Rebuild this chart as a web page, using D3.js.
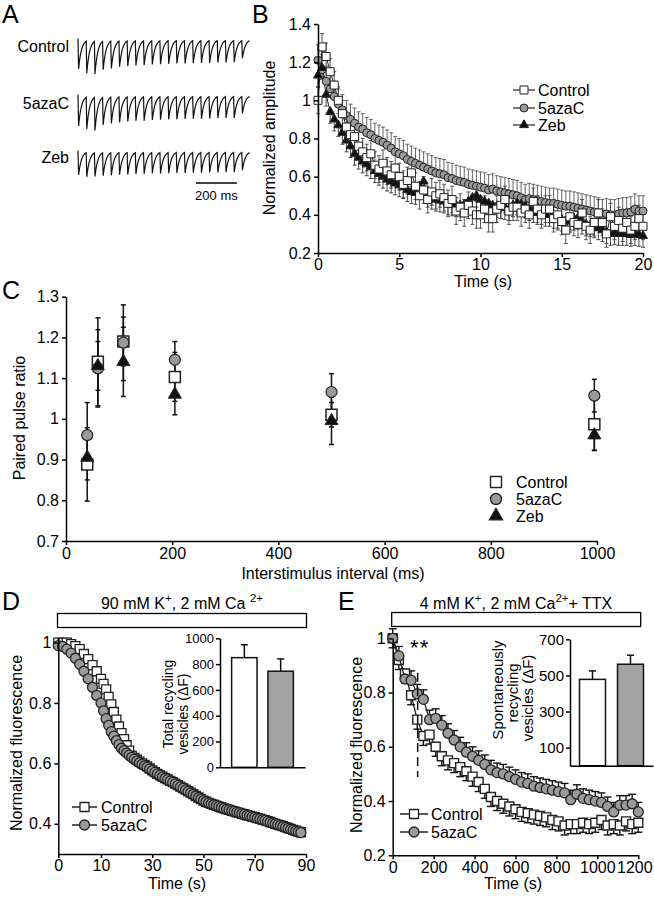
<!DOCTYPE html>
<html><head><meta charset="utf-8">
<script src="https://cdn.jsdelivr.net/npm/d3@7"></script>
<style>body{margin:0;background:#fff}svg{display:block}text{white-space:pre}</style>
</head><body>
<svg id="fig" width="654" height="899"></svg>
<script>
// ---------------- DATA ----------------
// Panel A: normalized EPSC amplitudes of the example 21-pulse trains
const traceLabels = ["Control", "5azaC", "Zeb"];
const ampControl = [1.0,1.08,1.10,0.96,0.92,0.87,0.85,0.83,0.82,0.80,0.79,0.78,0.77,0.77,0.76,0.75,0.75,0.74,0.74,0.73,0.60];
const ampAza     = [1.0,1.04,1.08,0.90,0.86,0.83,0.80,0.78,0.78,0.76,0.75,0.74,0.74,0.73,0.72,0.72,0.71,0.70,0.70,0.70,0.55];
const ampZeb     = [1.0,1.02,1.00,0.97,0.95,0.93,0.92,0.90,0.90,0.88,0.88,0.87,0.86,0.86,0.85,0.85,0.84,0.84,0.83,0.83,0.75];
const pulseInterval = 40; // ms
const scaleBarMs = 200;

// Panel B: normalized amplitude, one point every 0.25 s from 0 to 20 s
const stepB = 0.25;
const controlB = [1.00,1.28,1.23,1.15,1.08,1.00,0.93,0.86,0.82,0.81,
 0.76,0.73,0.70,0.72,0.66,0.64,0.67,0.63,0.61,0.645,
 0.60,0.56,0.58,0.62,0.55,0.50,0.53,0.48,0.52,0.50,
 0.51,0.49,0.46,0.48,0.42,0.44,0.41,0.45,0.42,0.40,
 0.40,0.43,0.38,0.38,0.43,0.45,0.48,0.42,0.44,0.44,
 0.41,0.43,0.40,0.47,0.43,0.40,0.43,0.43,0.38,0.40,
 0.365,0.32,0.39,0.36,0.35,0.41,0.34,0.32,0.36,0.41,
 0.36,0.30,0.39,0.34,0.37,0.33,0.36,0.32,0.34,0.38,
 0.34];
const azaB = [1.21,1.16,1.10,1.06,1.02,0.98,0.95,0.92,0.90,0.88,
 0.86,0.85,0.83,0.82,0.80,0.79,0.78,0.765,0.75,0.73,
 0.72,0.71,0.69,0.68,0.67,0.66,0.65,0.64,0.63,0.62,
 0.615,0.61,0.595,0.59,0.58,0.575,0.57,0.56,0.555,0.55,
 0.545,0.54,0.53,0.535,0.525,0.52,0.515,0.51,0.505,0.50,
 0.49,0.48,0.485,0.48,0.475,0.47,0.465,0.46,0.46,0.455,
 0.45,0.445,0.445,0.44,0.435,0.43,0.425,0.42,0.415,0.41,
 0.40,0.405,0.40,0.40,0.405,0.41,0.41,0.415,0.43,0.42,
 0.42];
const zebB = [1.13,1.17,1.03,0.94,0.90,0.87,0.83,0.79,0.76,0.72,
 0.70,0.68,0.665,0.65,0.63,0.615,0.60,0.585,0.575,0.565,
 0.555,0.545,0.53,0.52,0.515,0.55,0.575,0.50,0.49,0.48,
 0.475,0.47,0.46,0.455,0.45,0.45,0.455,0.47,0.49,0.50,
 0.48,0.47,0.46,0.45,0.445,0.44,0.435,0.43,0.45,0.46,
 0.455,0.445,0.43,0.42,0.41,0.41,0.40,0.40,0.39,0.38,
 0.375,0.365,0.37,0.38,0.385,0.36,0.35,0.345,0.34,0.33,
 0.32,0.31,0.30,0.305,0.30,0.30,0.30,0.295,0.30,0.295,
 0.29];
const semB = {control: 0.07, aza: 0.08, zeb: 0.06};
const ticksBx = [0,5,10,15,20];
const ticksBy = [0.2,0.4,0.6,0.8,1,1.2,1.4];

// Panel C: paired pulse ratio
const isiC = [40, 60, 108, 205, 500, 995];
const controlC = [0.888, 1.14, 1.19, 1.103, 1.01, 0.987];
const controlCerr = [0.09, 0.108, 0.06, 0.06, 0.03, 0.065];
const azaC = [0.96, 1.124, 1.187, 1.145, 1.066, 1.057];
const azaCerr = [0.08, 0.095, 0.093, 0.045, 0.045, 0.04];
const zebC = [0.905, 1.13, 1.14, 1.06, 0.995, 0.96];
const zebCerr = [0.055, 0.06, 0.085, 0.05, 0.058, 0.037];
const ticksCx = [0,200,400,600,800,1000];
const ticksCy = [0.7,0.8,0.9,1,1.1,1.2,1.3];

// Panel D: FM dye destaining, 90 mM K+, one point per second from 0 to 88 s
const stepD = 1;
const controlD = [1.0,1.0,1.0,0.995,0.988,0.978,0.962,0.945,0.925,0.905,0.88,
 0.863,0.845,0.82,0.795,0.77,0.745,0.722,0.70,0.68,0.66,
 0.642,0.625,0.618,0.612,0.606,0.60,0.595,0.59,0.583,0.577,
 0.571,0.565,0.56,0.556,0.551,0.547,0.542,0.538,0.533,0.528,
 0.523,0.518,0.513,0.508,0.503,0.498,0.492,0.487,0.482,0.477,
 0.473,0.469,0.466,0.463,0.46,0.457,0.454,0.451,0.448,0.446,
 0.443,0.441,0.438,0.436,0.433,0.431,0.428,0.426,0.424,0.422,
 0.419,0.417,0.414,0.412,0.409,0.406,0.403,0.40,0.397,0.395,
 0.392,0.389,0.386,0.383,0.38,0.377,0.374,0.372];
const azaD = [0.99,0.987,0.978,0.965,0.948,0.928,0.905,0.88,0.852,0.825,0.80,
 0.774,0.748,0.726,0.705,0.69,0.675,0.662,0.65,0.642,0.634,
 0.627,0.62,0.614,0.608,0.602,0.597,0.592,0.587,0.581,0.576,
 0.57,0.565,0.56,0.555,0.55,0.546,0.541,0.537,0.532,0.527,
 0.522,0.517,0.512,0.507,0.502,0.497,0.492,0.487,0.482,0.477,
 0.473,0.469,0.466,0.463,0.46,0.457,0.454,0.451,0.448,0.446,
 0.443,0.441,0.438,0.436,0.433,0.431,0.428,0.426,0.423,0.421,
 0.418,0.416,0.413,0.411,0.408,0.405,0.402,0.40,0.397,0.394,
 0.391,0.388,0.385,0.382,0.379,0.376,0.373,0.371];
const ticksDx = [0,10,30,50,70,90];
const ticksDy = [0.4,0.6,0.8,1];
const barGroups = ["Control", "5azaC"];
const totalRecycling = [850, 745];
const totalRecyclingErr = [100, 95];
const ticksDinset = [0,200,400,600,800,1000];

// Panel E: spontaneous destaining, 4 mM K+ + TTX, one point every 30 s
const stepE = 30;
const controlE = [1.0,0.92,0.87,0.79,0.70,0.64,0.645,0.60,0.565,0.55,
 0.54,0.525,0.51,0.49,0.47,0.445,0.415,0.40,0.39,0.38,
 0.37,0.36,0.355,0.35,0.345,0.34,0.33,0.325,0.31,0.315,
 0.315,0.32,0.315,0.32,0.33,0.31,0.315,0.31,0.325,0.315,
 0.32];
const azaE = [1.0,0.935,0.85,0.845,0.795,0.775,0.70,0.705,0.68,0.65,
 0.625,0.60,0.58,0.565,0.55,0.535,0.515,0.505,0.50,0.49,
 0.48,0.47,0.465,0.455,0.45,0.445,0.44,0.435,0.43,0.405,
 0.425,0.41,0.405,0.40,0.395,0.38,0.36,0.385,0.385,0.39,
 0.36];
const semE = {control: 0.035, aza: 0.035};
const sigTime = 122;
const ticksEx = [0,200,400,600,800,1000,1200];
const ticksEy = [0.2,0.4,0.6,0.8,1];
const spontRecycling = [478, 562];
const spontRecyclingErr = [47, 50];
const ticksEinset = [100,300,500,700];

// ---------------- DRAWING ----------------
const FONT = '"Liberation Sans", Arial, Helvetica, sans-serif';
const svg = d3.select('#fig').attr('font-family', FONT);
const GRAY = '#9a9a9a', EDGE = '#222';

function styleAxis(g, fs){
  g.attr('font-family', FONT).attr('font-size', fs);
  g.select('.domain').attr('stroke','#000').attr('stroke-width',1.5);
  g.selectAll('.tick line').attr('stroke','#000').attr('stroke-width',1.5);
  g.selectAll('.tick text').attr('fill','#000');
  return g;
}
function sym(type, s){
  if(type==='square') return d3.symbol(d3.symbolSquare, s*s)();
  if(type==='circle') return d3.symbol(d3.symbolCircle, Math.PI*s*s/4)();
  return d3.symbol(d3.symbolTriangle, Math.sqrt(3)/4*s*s)();
}
function markers(g, pts, x, y, type, s, fill, sw){
  g.append('g').selectAll('path').data(pts).join('path')
    .attr('d', sym(type, s))
    .attr('transform', d => `translate(${x(d[0])},${y(d[1])})`)
    .attr('fill', fill).attr('stroke', EDGE).attr('stroke-width', sw);
}
function connect(g, pts, x, y, sw){
  g.append('path').datum(pts).attr('fill','none').attr('stroke',EDGE).attr('stroke-width',sw)
    .attr('d', d3.line().x(d=>x(d[0])).y(d=>y(d[1])));
}
function errBars(g, pts, x, y, up, down, cap, color, sw){
  const eg = g.append('g').attr('stroke', color).attr('stroke-width', sw);
  pts.forEach(d => {
    const hi = up ? d[1]+d[2] : d[1], lo = down ? d[1]-d[2] : d[1];
    eg.append('line').attr('x1',x(d[0])).attr('x2',x(d[0])).attr('y1',y(hi)).attr('y2',y(lo));
    if(up) eg.append('line').attr('x1',x(d[0])-cap/2).attr('x2',x(d[0])+cap/2).attr('y1',y(hi)).attr('y2',y(hi));
    if(down) eg.append('line').attr('x1',x(d[0])-cap/2).attr('x2',x(d[0])+cap/2).attr('y1',y(lo)).attr('y2',y(lo));
  });
}
function rotLabel(x, y, txt, fs){
  svg.append('text').attr('transform',`translate(${x},${y}) rotate(-90)`)
    .attr('text-anchor','middle').attr('font-size',fs).text(txt);
}
function panelLetter(x, y, s){
  svg.append('text').attr('x',x).attr('y',y).attr('font-size',25).text(s);
}
const fmt = d => String(d);

// ===== Panel A =====
panelLetter(2, 23, 'A');
const xA = d3.scaleLinear().domain([0, 840]).range([78, 250]);
const traceSpecs = [
  {label: traceLabels[0], amps: ampControl, top: 39, depth: 30, ly: 52},
  {label: traceLabels[1], amps: ampAza, top: 95, depth: 31, ly: 109},
  {label: traceLabels[2], amps: ampZeb, top: 151, depth: 24, ly: 163}
];
traceSpecs.forEach(s => {
  const yA = d3.scaleLinear().domain([0, 1]).range([s.top, s.top + s.depth]);
  const pts = [];
  for(let t = -3; t <= 838; t += 0.5){
    let v = 0;
    s.amps.forEach((a, i) => {
      const dt = t - i*pulseInterval;
      if(dt < 0) return;
      v += dt < 3 ? a*dt/3 : a*Math.exp(-(dt-3)/14);
    });
    pts.push([t, v]);
  }
  svg.append('path').datum(pts).attr('fill','none').attr('stroke','#111').attr('stroke-width',1.2)
    .attr('d', d3.line().x(d=>xA(d[0])).y(d=>yA(d[1])));
  svg.append('text').attr('x', 69).attr('y', s.ly).attr('text-anchor','end').attr('font-size',16).text(s.label);
});
svg.append('line').attr('x1', xA(576)).attr('x2', xA(576+scaleBarMs)).attr('y1',183).attr('y2',183)
  .attr('stroke','#000').attr('stroke-width',1.5);
svg.append('text').attr('x', xA(576+scaleBarMs/2)).attr('y', 200).attr('text-anchor','middle').attr('font-size',13).text(scaleBarMs + ' ms');

// ===== Panel B =====
panelLetter(252, 23, 'B');
const xB = d3.scaleLinear().domain([0, 20]).range([318, 643]);
const yB = d3.scaleLinear().domain([0.2, 1.4]).range([253, 24]);
const gB = svg.append('g');
const ptsB = arr => arr.map((v,i) => [i*stepB, v]);
const cB = ptsB(controlB), aB = ptsB(azaB), zB = ptsB(zebB);
errBars(gB, aB.map(d=>[d[0],d[1],semB.aza]), xB, yB, true, false, 4, '#555', 0.9);
errBars(gB, zB.map(d=>[d[0],d[1],semB.zeb]), xB, yB, false, true, 4, '#333', 0.9);
errBars(gB, cB.map(d=>[d[0],d[1],semB.control]), xB, yB, true, true, 4, '#444', 0.9);
connect(gB, aB, xB, yB, 1); connect(gB, zB, xB, yB, 1); connect(gB, cB, xB, yB, 1);
markers(gB, aB, xB, yB, 'circle', 8, GRAY, 1);
markers(gB, zB, xB, yB, 'triangle', 9, '#111', 1);
markers(gB, cB, xB, yB, 'square', 8, '#fff', 1);
styleAxis(svg.append('g').attr('transform','translate(0,253)')
  .call(d3.axisBottom(xB).tickValues(ticksBx).tickSize(4).tickSizeOuter(0).tickPadding(2).tickFormat(fmt)), 16);
styleAxis(svg.append('g').attr('transform','translate(318,0)')
  .call(d3.axisLeft(yB).tickValues(ticksBy).tickSize(4).tickSizeOuter(0).tickPadding(3).tickFormat(fmt)), 16);
rotLabel(275, 138, 'Normalized amplitude', 16);
svg.append('text').attr('x', 483).attr('y', 287).attr('text-anchor','middle').attr('font-size',16).text('Time (s)');
const legB = [
  {label: 'Control', type: 'square', fill: '#fff', y: 90, s: 8},
  {label: '5azaC', type: 'circle', fill: GRAY, y: 108, s: 8},
  {label: 'Zeb', type: 'triangle', fill: '#111', y: 125, s: 9}
];
legB.forEach(l => {
  svg.append('line').attr('x1',513).attr('x2',535).attr('y1',l.y).attr('y2',l.y).attr('stroke',EDGE).attr('stroke-width',1.2);
  svg.append('path').attr('d', sym(l.type, l.s)).attr('transform',`translate(524,${l.y})`).attr('fill',l.fill).attr('stroke',EDGE).attr('stroke-width',1);
  svg.append('text').attr('x',538).attr('y',l.y+6).attr('font-size',16).text(l.label);
});

// ===== Panel C =====
panelLetter(2, 299, 'C');
const xC = d3.scaleLinear().domain([0, 1000]).range([66, 597]);
const yC = d3.scaleLinear().domain([0.7, 1.3]).range([541, 296.7]);
const gC = svg.append('g');
const cC = isiC.map((t,i)=>[t, controlC[i], controlCerr[i]]);
const aC = isiC.map((t,i)=>[t, azaC[i], azaCerr[i]]);
const zC = isiC.map((t,i)=>[t, zebC[i], zebCerr[i]]);
[cC, aC, zC].forEach(p => errBars(gC, p, xC, yC, true, true, 5, '#111', 1.5));
markers(gC, cC, xC, yC, 'square', 11, '#fff', 1.5);
markers(gC, aC, xC, yC, 'circle', 11, GRAY, 1.2);
markers(gC, zC, xC, yC, 'triangle', 13, '#111', 1);
styleAxis(svg.append('g').attr('transform','translate(0,541)')
  .call(d3.axisBottom(xC).tickValues(ticksCx).tickSize(4).tickSizeOuter(0).tickFormat(fmt)), 16);
styleAxis(svg.append('g').attr('transform','translate(66,0)')
  .call(d3.axisLeft(yC).tickValues(ticksCy).tickSize(4).tickSizeOuter(0).tickFormat(fmt)), 16);
rotLabel(25, 418, 'Paired pulse ratio', 16);
svg.append('text').attr('x', 333).attr('y', 579).attr('text-anchor','middle').attr('font-size',16).text('Interstimulus interval (ms)');
const legC = [
  {label: 'Control', type: 'square', fill: '#fff', y: 482, s: 11},
  {label: '5azaC', type: 'circle', fill: GRAY, y: 499, s: 11},
  {label: 'Zeb', type: 'triangle', fill: '#111', y: 516, s: 13}
];
legC.forEach(l => {
  svg.append('path').attr('d', sym(l.type, l.s)).attr('transform',`translate(496,${l.y})`).attr('fill',l.fill).attr('stroke',EDGE).attr('stroke-width',1.4);
  svg.append('text').attr('x',516).attr('y',l.y+6).attr('font-size',16).text(l.label);
});

// ===== Panel D =====
panelLetter(2, 610, 'D');
function supText(x, y, parts, fs){
  const t = svg.append('text').attr('x',x).attr('y',y).attr('text-anchor','middle').attr('font-size',fs);
  let raised = false;
  parts.forEach(([s, sup]) => {
    const ts = t.append('tspan').text(s);
    if(sup){ ts.attr('font-size', fs*0.72); if(!raised){ ts.attr('dy', -7); raised = true; } }
    else if(raised){ ts.attr('dy', 7); raised = false; }
  });
}
const xD = d3.scaleLinear().domain([0, 10, 90]).range([58.3, 101, 306]);
const yD = d3.scaleLinear().domain([0.3, 1.015]).range([854, 638]);
svg.append('rect').attr('x', 57.5).attr('y', 613.5).attr('width', 249).attr('height', 14)
  .attr('fill','#fff').attr('stroke','#000').attr('stroke-width',1.3);
supText(182, 609, [['90 mM K',0],['+',1],[', 2 mM Ca ',0],['2+',1]], 16);
const gD = svg.append('g');
const cD = controlD.map((v,i)=>[i*stepD, v]);
const aD = azaD.map((v,i)=>[i*stepD, v]);
connect(gD, cD, xD, yD, 1.2);
markers(gD, cD, xD, yD, 'square', 9, '#fff', 1.3);
connect(gD, aD, xD, yD, 1.2);
markers(gD, aD, xD, yD, 'circle', 10, GRAY, 1.3);
styleAxis(svg.append('g').attr('transform','translate(0,854)')
  .call(d3.axisBottom(xD).tickValues(ticksDx).tickSize(4).tickSizeOuter(0).tickPadding(2).tickFormat(fmt)), 16);
styleAxis(svg.append('g').attr('transform','translate(58.3,0)')
  .call(d3.axisLeft(yD).tickValues(ticksDy).tickSize(4).tickSizeOuter(0).tickFormat(fmt)), 16);
rotLabel(22, 743, 'Normalized fluorescence', 16);
svg.append('text').attr('x', 177).attr('y', 889).attr('text-anchor','middle').attr('font-size',16).text('Time (s)');
[{label:'Control', type:'square', fill:'#fff', y:807, s:9},{label:'5azaC', type:'circle', fill:GRAY, y:825, s:10}].forEach(l=>{
  svg.append('line').attr('x1',72).attr('x2',97).attr('y1',l.y).attr('y2',l.y).attr('stroke',EDGE).attr('stroke-width',1.5);
  svg.append('path').attr('d', sym(l.type, l.s)).attr('transform',`translate(84.5,${l.y})`).attr('fill',l.fill).attr('stroke',EDGE).attr('stroke-width',1.3);
  svg.append('text').attr('x',101).attr('y',l.y+6).attr('font-size',16).text(l.label);
});
// inset D
const xDi = d3.scaleBand().domain(barGroups).range([220, 305]).paddingInner(0.3).paddingOuter(0.32);
const yDi = d3.scaleLinear().domain([0, 1000]).range([767.3, 638.3]);
const gDi = svg.append('g');
const barFills = ['#fff', '#a3a3a3'];
barGroups.forEach((g, i) => {
  const cx = xDi(g) + xDi.bandwidth()/2;
  const top = totalRecycling[i] + totalRecyclingErr[i];
  gDi.append('line').attr('x1',cx).attr('x2',cx).attr('y1',yDi(totalRecycling[i])).attr('y2',yDi(top)).attr('stroke','#111').attr('stroke-width',1.5);
  gDi.append('line').attr('x1',cx-3.5).attr('x2',cx+3.5).attr('y1',yDi(top)).attr('y2',yDi(top)).attr('stroke','#111').attr('stroke-width',1.5);
  gDi.append('rect').attr('x',xDi(g)).attr('y',yDi(totalRecycling[i])).attr('width',xDi.bandwidth()).attr('height',yDi(0)-yDi(totalRecycling[i]))
    .attr('fill',barFills[i]).attr('stroke','#111').attr('stroke-width',1.5);
});
styleAxis(svg.append('g').attr('transform','translate(0,767.3)')
  .call(d3.axisBottom(xDi).tickSize(0).tickSizeOuter(0).tickFormat('')), 13);
styleAxis(svg.append('g').attr('transform','translate(220,0)')
  .call(d3.axisLeft(yDi).tickValues(ticksDinset).tickSize(4).tickSizeOuter(0).tickPadding(2).tickFormat(fmt)), 13);
rotLabel(173, 704, 'Total recycling', 14);
rotLabel(188, 714, 'vesicles (\u0394F)', 14);

// ===== Panel E =====
panelLetter(338, 610, 'E');
const xE = d3.scaleLinear().domain([0, 1200]).range([392.7, 638.3]);
const yE = d3.scaleLinear().domain([0.2, 1]).range([855.3, 638.3]);
svg.append('rect').attr('x', 391.7).attr('y', 612.5).attr('width', 249).attr('height', 14)
  .attr('fill','#fff').attr('stroke','#000').attr('stroke-width',1.3);
supText(516, 609, [['4 mM K',0],['+',1],[', 2 mM Ca',0],['2+',1],['+ TTX',0]], 16);
const gE = svg.append('g');
const cE = controlE.map((v,i)=>[i*stepE, v]);
const aE = azaE.map((v,i)=>[i*stepE, v]);
errBars(gE, cE.map(d=>[d[0],d[1],semE.control]), xE, yE, false, true, 8, '#111', 1.4);
errBars(gE, aE.map(d=>[d[0],d[1],semE.aza]), xE, yE, true, false, 8, '#111', 1.4);
connect(gE, cE, xE, yE, 1.3);
markers(gE, cE, xE, yE, 'square', 9, '#fff', 1.4);
connect(gE, aE, xE, yE, 1.3);
markers(gE, aE, xE, yE, 'circle', 10, GRAY, 1.3);
const axEx = styleAxis(svg.append('g').attr('transform','translate(0,855.3)')
  .call(d3.axisBottom(xE).tickValues(ticksEx).tickSize(4).tickSizeOuter(0).tickPadding(2).tickFormat(fmt)), 16);
axEx.selectAll('.tick text').filter(d => d === 1200).attr('dx', -4);
styleAxis(svg.append('g').attr('transform','translate(392.7,0)')
  .call(d3.axisLeft(yE).tickValues(ticksEy).tickSize(4).tickSizeOuter(0).tickFormat(fmt)), 16);
rotLabel(362, 745, 'Normalized fluorescence', 16);
svg.append('text').attr('x', 513).attr('y', 889).attr('text-anchor','middle').attr('font-size',16).text('Time (s)');
svg.append('text').attr('x', xE(sigTime)+2).attr('y', 655).attr('text-anchor','middle').attr('font-size',22).attr('letter-spacing',1).text('**');
svg.append('line').attr('x1', xE(sigTime)).attr('x2', xE(sigTime)).attr('y1', 673).attr('y2', 777)
  .attr('stroke','#111').attr('stroke-width',1.5).attr('stroke-dasharray','9,5');
[{label:'Control', type:'square', fill:'#fff', y:814, s:9},{label:'5azaC', type:'circle', fill:GRAY, y:832, s:10}].forEach(l=>{
  svg.append('line').attr('x1',400).attr('x2',428).attr('y1',l.y).attr('y2',l.y).attr('stroke',EDGE).attr('stroke-width',1.5);
  svg.append('path').attr('d', sym(l.type, l.s)).attr('transform',`translate(414,${l.y})`).attr('fill',l.fill).attr('stroke',EDGE).attr('stroke-width',1.3);
  svg.append('text').attr('x',431).attr('y',l.y+6).attr('font-size',16).text(l.label);
});
// inset E
const xEi = d3.scaleBand().domain(barGroups).range([570, 653]).paddingInner(0.316).paddingOuter(0.25);
const yEi = d3.scaleLinear().domain([0, 700]).range([765.7, 639.3]);
const gEi = svg.append('g');
barGroups.forEach((g, i) => {
  const cx = xEi(g) + xEi.bandwidth()/2;
  const top = spontRecycling[i] + spontRecyclingErr[i];
  gEi.append('line').attr('x1',cx).attr('x2',cx).attr('y1',yEi(spontRecycling[i])).attr('y2',yEi(top)).attr('stroke','#111').attr('stroke-width',1.5);
  gEi.append('line').attr('x1',cx-3.5).attr('x2',cx+3.5).attr('y1',yEi(top)).attr('y2',yEi(top)).attr('stroke','#111').attr('stroke-width',1.5);
  gEi.append('rect').attr('x',xEi(g)).attr('y',yEi(spontRecycling[i])).attr('width',xEi.bandwidth()).attr('height',yEi(0)-yEi(spontRecycling[i]))
    .attr('fill',barFills[i]).attr('stroke','#111').attr('stroke-width',1.5);
});
styleAxis(svg.append('g').attr('transform','translate(0,765.7)')
  .call(d3.axisBottom(xEi).tickSize(0).tickSizeOuter(0).tickFormat('')), 15);
styleAxis(svg.append('g').attr('transform','translate(570,0)')
  .call(d3.axisLeft(yEi).tickValues(ticksEinset).tickSize(4).tickSizeOuter(0).tickPadding(2).tickFormat(fmt)), 15);
rotLabel(503, 690, 'Spontaneously', 15);
rotLabel(518, 693, 'recycling', 15);
rotLabel(533, 698, 'vesicles (\u0394F)', 15);
</script>
</body></html>
